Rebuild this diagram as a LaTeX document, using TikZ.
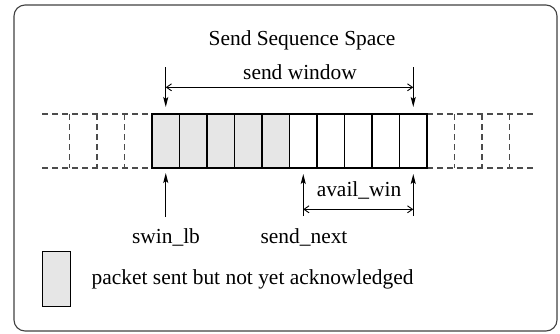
\documentclass[tikz,border=0pt]{standalone}
\usepackage{fontspec}
\setmainfont{Liberation Serif}
\usetikzlibrary{arrows.meta}
\definecolor{sentfill}{HTML}{E6E6E6}
\tikzset{
  cellbox/.style={draw=black, line width=1.4bp, minimum width=27.5bp, minimum height=54bp, inner sep=0pt, outer sep=0pt},
  sentcell/.style={cellbox, fill=sentfill},
  freecell/.style={cellbox, fill=white},
  txt/.style={inner sep=0pt, font=\fontsize{21.5}{24}\selectfont},
  ghost/.style={draw=black!70, line width=1.1bp, dash pattern=on 6bp off 4bp},
  varrow/.style={line width=1bp, -{Stealth[length=10bp,width=5bp,inset=2bp]}},
  harrow/.style={line width=0.9bp, {Straight Barb[length=5bp,width=7bp]}-{Straight Barb[length=5bp,width=7bp]}},
}
\begin{document}
\begin{tikzpicture}[x=1bp,y=-1bp]
\useasboundingbox (0,0) rectangle (560,333);
% outer frame
\draw[draw=black!75, line width=1.1bp, rounded corners=11bp] (14,5) rectangle (557,331);
% ghost cells
\draw[ghost] (42,114) -- (152,114);
\draw[ghost] (42,168) -- (152,168);
\foreach \x in {69.5,97,124.5} \draw[ghost] (\x,114) -- (\x,168);
\draw[ghost] (427,114) -- (537,114);
\draw[ghost] (427,168) -- (537,168);
\foreach \x in {454.5,482,509.5} \draw[ghost] (\x,114) -- (\x,168);
% cells
\foreach \i in {1,...,5} \node[sentcell] (c\i) at ({152+27.5*(\i-0.5)},141) {};
\foreach \i in {6,...,10} \node[freecell] (c\i) at ({152+27.5*(\i-0.5)},141) {};
% texts
\node[txt] (title) at (302,40) {Send Sequence Space};
\node[txt] (sendwin) at (300,72) {send window};
\node[txt] (swinlb) at (166,237) {swin\_lb};
\node[txt] (sendnext) at (304,237) {send\_next};
\node[txt] (availwin) at (359,190) {avail\_win};
% send window arrows
\coordinate (swl) at (c1.north |- 0,67);
\coordinate (swr) at (c10.north |- 0,67);
\draw[varrow, shorten >=7bp] (swl) -- (c1.north);
\draw[varrow, shorten >=7bp] (swr) -- (c10.north);
\coordinate (hwl) at (c1.north |- 0,87.3);
\coordinate (hwr) at (c10.north |- 0,87.3);
\draw[harrow] (hwl) -- (hwr);
% lower arrows
\coordinate (lb0) at (c1.south |- 0,217);
\draw[varrow, shorten >=5bp] (lb0) -- (c1.south);
\coordinate (sn0) at (c6.south |- 0,216);
\draw[varrow, shorten >=6bp] (sn0) -- (c6.south);
\coordinate (aw0) at (c10.south |- 0,216);
\draw[varrow, shorten >=6bp] (aw0) -- (c10.south);
\coordinate (awl) at (c6.south |- 0,209.3);
\coordinate (awr) at (c10.south |- 0,209.3);
\draw[harrow] (awl) -- (awr);
% legend
\node[sentcell, minimum width=28bp, minimum height=55bp] (legbox) at (56.7,279) {};
\node[txt, anchor=west] (legtext) at (91.5,279) {packet sent but not yet acknowledged};
\end{tikzpicture}
\end{document}
